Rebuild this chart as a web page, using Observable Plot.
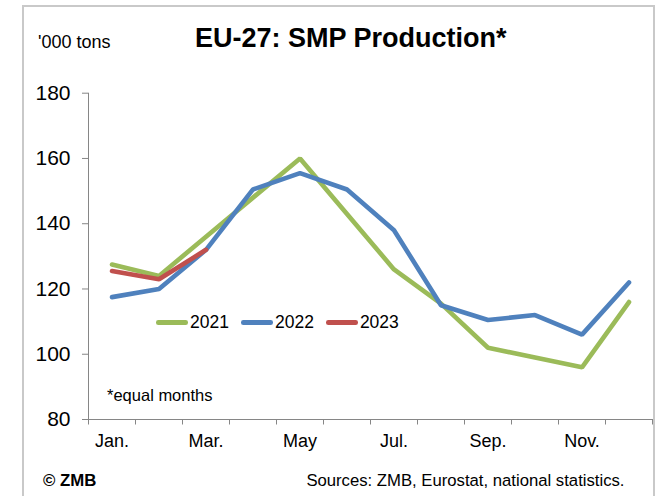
<!DOCTYPE html>
<html>
<head>
<meta charset="utf-8">
<script src="https://cdn.jsdelivr.net/npm/d3@7"></script>
<script src="https://cdn.jsdelivr.net/npm/@observablehq/plot@0.6"></script>
<style>
  html, body { margin: 0; padding: 0; background: #fff; }
  #wrap { position: relative; width: 661px; height: 496px; overflow: hidden; font-family: "Liberation Sans", Arial, sans-serif; color: #000; }
  #frame { position: absolute; left: 22px; top: 5px; width: 633px; height: 600px; border: 2px solid #c9c9c9; box-sizing: border-box; }
  #chart { position: absolute; left: 0; top: 0; }
  .t { position: absolute; white-space: nowrap; line-height: 1; }
  #title { left: 195px; top: 25px; font-size: 27px; font-weight: bold; }
  #unit { left: 38px; top: 33px; font-size: 18px; }
  #note { left: 107px; top: 386.5px; font-size: 16.5px; }
  #copy { left: 43px; top: 472.5px; font-size: 16.8px; font-weight: bold; }
  #src { right: 36.5px; top: 472.7px; font-size: 16.7px; }
  #legend { position: absolute; left: 156px; top: 313.8px; display: flex; align-items: center; font-size: 17.5px; line-height: 1; }
  .item { display: flex; align-items: center; margin-right: 12px; }
  .sw { width: 32px; height: 4.6px; border-radius: 2.3px; margin-right: 2px; }
</style>
</head>
<body>
<div id="wrap">
  <div id="frame"></div>
  <div id="chart"></div>
  <div class="t" id="title">EU-27: SMP Production*</div>
  <div class="t" id="unit">'000 tons</div>
  <div class="t" id="note">*equal months</div>
  <div class="t" id="copy">© ZMB</div>
  <div class="t" id="src">Sources: ZMB, Eurostat, national statistics.</div>
  <div id="legend"></div>
</div>
<script>
const months = ["Jan.", "Feb.", "Mar.", "Apr.", "May", "Jun.", "Jul.", "Aug.", "Sep.", "Oct.", "Nov.", "Dec."];
const labelMonths = ["Jan.", "Mar.", "May", "Jul.", "Sep.", "Nov."];
const series = ["2021", "2022", "2023"];
const v2021 = [127.5, 124, 136, 148, 160, 143, 126, 115.5, 102, 99, 96, 116];
const v2022 = [117.5, 120, 132, 150.5, 155.5, 150.5, 138, 115, 110.5, 112, 106, 122];
const v2023 = [125.5, 123, 132];
const colors = ["#9BBB59", "#4F81BD", "#C0504D"];
const yTicks = [80, 100, 120, 140, 160, 180];

const values = [v2021, v2022, v2023];
const rows = series.flatMap((s, k) => values[k].map((v, i) => ({series: s, month: i + 1, value: v})));
const bounds = d3.range(0, months.length + 1).map(i => i + 0.5);
const labelTicks = labelMonths.map(m => months.indexOf(m) + 1);

const chart = Plot.plot({
  width: 661,
  height: 496,
  marginLeft: 88,
  marginRight: 9,
  marginTop: 92.7,
  marginBottom: 77,
  style: {fontFamily: "'Liberation Sans', Arial, sans-serif", background: "transparent", color: "#000", overflow: "visible"},
  x: {type: "linear", domain: [0.5, months.length + 0.5], label: null},
  y: {domain: [80, 180], label: null},
  color: {domain: series, range: colors},
  marks: [
    Plot.ruleX([0.5], {stroke: "#868686", strokeWidth: 1}),
    Plot.ruleY([80], {stroke: "#868686", strokeWidth: 1}),
    Plot.axisY({ticks: yTicks, tickSize: 6, tickPadding: 12, fontSize: 21, stroke: "#868686", label: null}),
    Plot.axisX({ticks: bounds, tickSize: 5.5, tickFormat: () => "", stroke: "#868686", label: null}),
    Plot.axisX({ticks: labelTicks, tickSize: 0, tickPadding: 14.7, fontSize: 18, tickFormat: i => months[i - 1], label: null}),
    Plot.line(rows, {x: "month", y: "value", z: "series", stroke: "series", strokeWidth: 4.6, strokeLinecap: "round", strokeLinejoin: "miter"})
  ]
});
document.getElementById("chart").appendChild(chart);

const legend = document.getElementById("legend");
series.forEach((s, k) => {
  const item = document.createElement("div");
  item.className = "item";
  const sw = document.createElement("div");
  sw.className = "sw";
  sw.style.background = colors[k];
  const tx = document.createElement("span");
  tx.textContent = s;
  item.appendChild(sw);
  item.appendChild(tx);
  legend.appendChild(item);
});
</script>
</body>
</html>
